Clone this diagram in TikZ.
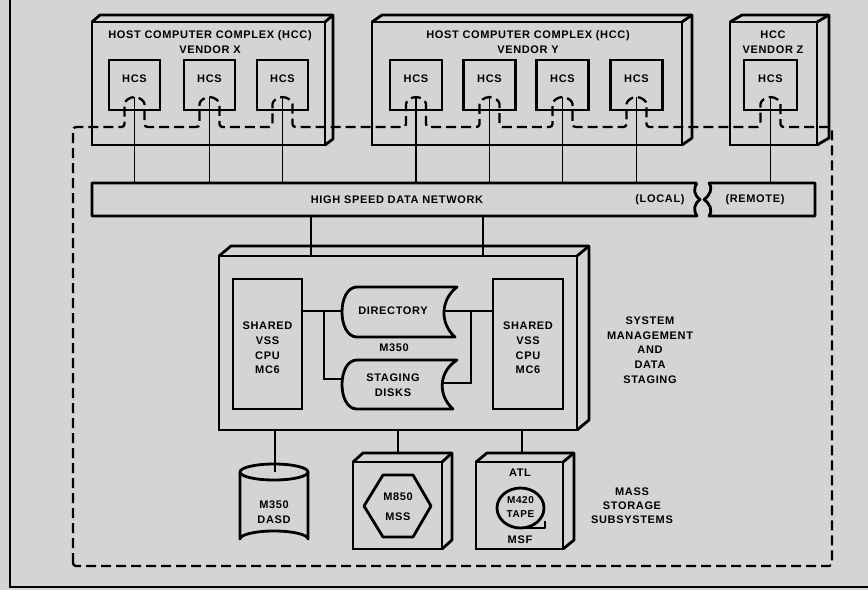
\documentclass[tikz,border=0pt]{standalone}
\usepackage{fontspec}
\setmainfont{Liberation Sans}[LetterSpace=6]
\usetikzlibrary{calc}
\definecolor{bg}{RGB}{212,212,212}
\newcommand\labfont{\fontsize{11}{14.7}\selectfont\bfseries}
\tikzset{
  thk/.style={line width=2.8pt, line join=round},
  conn/.style={line width=1.5pt},
  dashln/.style={line width=2.3pt, dash pattern=on 10pt off 5pt, rounded corners=3pt},
  lbl/.style={font=\labfont, align=center, inner sep=0pt},
  boxn/.style={draw, line width=2.8pt, inner sep=0pt, outer sep=0pt},
  ghost/.style={inner sep=0pt, outer sep=0pt},
}
\begin{document}
\begin{tikzpicture}[x=1pt,y=-1pt]
\fill[bg] (0,0) rectangle (868,590);
\useasboundingbox (0,0) rectangle (868,590);
\draw[line width=1.8pt] (10,0) -- (10,587) -- (868,587);

% ---------- Host computer complexes ----------
\node[boxn, minimum width=233pt, minimum height=123pt] (hccx) at (208.5,83.5) {};
\draw[thk] (hccx.north west) -- ++(8,-7) -- ($(hccx.north east)+(8,-7)$) -- ($(hccx.south east)+(8,-6)$) -- (hccx.south east);
\draw[thk] (hccx.north east) -- ++(8,-7);
\node[lbl] (hccxt) at (210,42) {HOST COMPUTER COMPLEX (HCC)\\VENDOR X};

\node[boxn, minimum width=310pt, minimum height=123pt] (hccy) at (527,83.5) {};
\draw[thk] (hccy.north west) -- ++(10,-7) -- ($(hccy.north east)+(10,-7)$) -- ($(hccy.south east)+(10,-7)$) -- (hccy.south east);
\draw[thk] (hccy.north east) -- ++(10,-7);
\node[lbl] (hccyt) at (528,42) {HOST COMPUTER COMPLEX (HCC)\\VENDOR Y};

\node[boxn, minimum width=87pt, minimum height=123pt] (hccz) at (773.5,83.5) {};
\draw[thk] (hccz.north west) -- ++(12,-7) -- ($(hccz.north east)+(12,-7)$) -- ($(hccz.south east)+(12,-7)$) -- (hccz.south east);
\draw[thk] (hccz.north east) -- ++(12,-7);
\node[lbl] (hcczt) at (773,42) {HCC\\VENDOR Z};

% HCS boxes
\foreach \n/\x/\w in {hx1/134.5/51, hx2/209.5/51, hx3/282.5/51, hy1/416/52, hy2/489.5/52, hy3/562.5/52, hy4/636.5/52, hz1/770.5/53}{
  \node[boxn, minimum width=\w pt, minimum height=50pt] (\n) at (\x,85) {};
  \node[lbl] (\n t) at (\x,79) {HCS};
}

% ---------- dashed boundary ----------
\draw[dashln] (73,566) -- (73,127)
  -- (124.5,127) -- (124.5,107) arc (180:360:10) -- (144.5,127)
  -- (199.5,127) -- (199.5,107) arc (180:360:10) -- (219.5,127)
  -- (272.5,127) -- (272.5,107) arc (180:360:10) -- (292.5,127)
  -- (406,127) -- (406,107) arc (180:360:10) -- (426,127)
  -- (479.5,127) -- (479.5,107) arc (180:360:10) -- (499.5,127)
  -- (552.5,127) -- (552.5,107) arc (180:360:10) -- (572.5,127)
  -- (626.5,127) -- (626.5,107) arc (180:360:10) -- (646.5,127)
  -- (760.5,127) -- (760.5,107) arc (180:360:10) -- (780.5,127)
  -- (832,127) -- (832,566) -- cycle;

% ---------- network ----------
\node[ghost, minimum width=605pt, minimum height=33pt] (netl) at (394.5,199.5) {};
\node[ghost, minimum width=108pt, minimum height=33pt] (netr) at (761,199.5) {};
\draw[thk] (697,183) -- (92,183) -- (92,216) -- (697,216)
  .. controls (693,210) and (694,204) .. (700,199.5)
  .. controls (694,195) and (693,189) .. (697,183);
\draw[thk] (709,183) .. controls (713,189) and (710,195) .. (704,199.5)
  .. controls (710,204) and (713,210) .. (709,216) -- (815,216) -- (815,183) -- cycle;
\node[lbl] (nett) at (397,200) {HIGH SPEED DATA NETWORK};
\node[lbl] (loc) at (660,200) {(LOCAL)};
\node[lbl] (rem) at (755,200) {(REMOTE)};

\foreach \n in {hx1,hx2,hx3,hy1,hy2,hy3,hy4}{
  \draw[conn] ($(\n.south)+(0,-13)$) -- (\n.south |- netl.north);
}
\draw[conn] ($(hz1.south)+(0,-13)$) -- (hz1.south |- netr.north);

% ---------- M350 system ----------
\node[boxn, minimum width=358pt, minimum height=174pt] (m350) at (398,343) {};
\draw[thk] (m350.north west) -- ++(12,-10) -- ($(m350.north east)+(12,-10)$) -- ($(m350.south east)+(12,-10)$) -- (m350.south east);
\draw[thk] (m350.north east) -- ++(12,-10);
\coordinate (c311) at (311,0);
\coordinate (c483) at (483,0);
\draw[conn] (netl.south -| c311) -- (m350.north -| c311);
\draw[conn] (netl.south -| c483) -- (m350.north -| c483);

\node[boxn, minimum width=69pt, minimum height=130pt] (cpul) at (267.5,344) {};
\node[boxn, minimum width=70pt, minimum height=130pt] (cpur) at (528,344) {};
\node[lbl] (cpult) at (267.5,348) {SHARED\\VSS\\CPU\\MC6};
\node[lbl] (cpurt) at (528,348) {SHARED\\VSS\\CPU\\MC6};

% disk shapes
\draw[thk] (357,287) -- (457,287) .. controls (440,300) and (440,324) .. (455,337)
  -- (357,337) .. controls (337,337) and (337,287) .. (357,287) -- cycle;
\draw[thk] (357,360) -- (457,360) .. controls (438,372) and (438,396) .. (453,409)
  -- (357,409) .. controls (337,409) and (337,360) .. (357,360) -- cycle;
\node[lbl] (dir) at (393,311) {DIRECTORY};
\node[lbl] (m350t) at (394,348) {M350};
\node[lbl] (stg) at (393,385) {STAGING\\DISKS};

\coordinate (dirL) at (342,311);
\coordinate (dirR) at (444,311);
\coordinate (stgL) at (343,379);
\coordinate (stgR) at (441,383);
\coordinate (jl) at (324,311);
\coordinate (jr) at (471,311);
\draw[conn] (cpul.east |- dirL) -- (dirL);
\draw[conn] (jl) -- (jl |- stgL) -- (stgL);
\draw[conn] (dirR) -- (cpur.west |- dirR);
\draw[conn] (jr) -- (jr |- stgR) -- (stgR);

\node[lbl] (smt) at (650,350) {SYSTEM\\MANAGEMENT\\AND\\DATA\\STAGING};

% ---------- mass storage ----------
% DASD cylinder
\draw[thk] (240,472) -- (240,539) arc (180:0:34pt and 8pt) -- (308,472);
\draw[thk] (274,472) ellipse (34pt and 8pt);
\coordinate (dasdtop) at (275,472);
\draw[conn] (m350.south -| dasdtop) -- (dasdtop);
\node[lbl] (dasd) at (274,512) {M350\\DASD};

% MSS
\node[boxn, minimum width=89pt, minimum height=87pt] (mss) at (397.5,505.5) {};
\draw[thk] (mss.north west) -- ++(10,-9) -- ($(mss.north east)+(10,-9)$) -- ($(mss.south east)+(10,-9)$) -- (mss.south east);
\draw[thk] (mss.north east) -- ++(10,-9);
\draw[thk] (383,475) -- (413,475) -- (431,506) -- (413,537) -- (383,537) -- (364,506) -- cycle;
\node[lbl] (msst) at (398,506.5) {M850\\[5pt]MSS};
\coordinate (mssTop) at (398,453);
\draw[conn] (m350.south -| mssTop) -- (mssTop);

% MSF
\node[boxn, minimum width=87pt, minimum height=87pt] (msf) at (519.5,505.5) {};
\draw[thk] (msf.north west) -- ++(11,-9) -- ($(msf.north east)+(11,-9)$) -- ($(msf.south east)+(11,-9)$) -- (msf.south east);
\draw[thk] (msf.north east) -- ++(11,-9);
\coordinate (msfTop) at (522,453);
\draw[conn] (m350.south -| msfTop) -- (msfTop);
\node[lbl] (atl) at (520,473) {ATL};
\draw[thk] (520.5,508) ellipse (23.5pt and 20pt);
\draw[thk] (520.5,528) -- (545,528) -- (545,521);
\node[lbl, font=\fontsize{10}{14}\selectfont\bfseries] (tape) at (520.5,507) {M420\\TAPE};
\node[lbl] (msft) at (520,540) {MSF};

\node[lbl, font=\fontsize{11}{14}\selectfont\bfseries] (mssub) at (632,506) {MASS\\STORAGE\\SUBSYSTEMS};
\end{tikzpicture}
\end{document}
